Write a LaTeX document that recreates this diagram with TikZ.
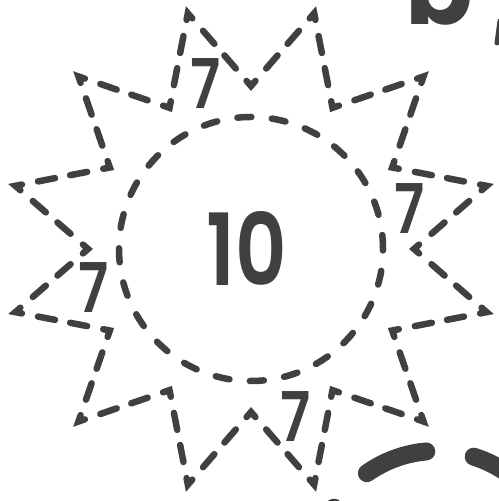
\documentclass[tikz,border=0pt]{standalone}
\usepackage{fontspec}
\setmainfont{Poppins}
\newfontfamily\numfont{Poppins SemiBold}
\usetikzlibrary{calc}
\definecolor{ink}{HTML}{404040}

\tikzset{
  ray line/.style={ink, line width=6.5bp, line cap=round},
  tip line/.style={ink, line width=6.5bp, line cap=round, line join=miter},
  ring line/.style={ink, line width=6.5bp, line cap=round, dash pattern=on 14bp off 20.5bp},
  fat line/.style={ink, line width=18bp, line cap=round, dash pattern=on 64bp off 48bp, dash phase=27bp},
  num label/.style={ink, inner sep=0pt, font=\numfont\fontsize{69}{69}\selectfont, xscale=0.8, transform shape}
}

\begin{document}
\begin{tikzpicture}[x=1bp,y=1bp]
  \useasboundingbox (0,0) rectangle (499,501);
  \coordinate (c) at (251,252);
  % valleys and tips of the sun
  \foreach \k in {0,...,11} {
    \coordinate (v\k) at ($(c)+(30*\k:163)$);
    \coordinate (t\k) at ($(c)+(30*\k+15:244)$);
  }
  \foreach \k in {0,...,11} {
    \pgfmathtruncatemacro\nx{mod(\k+1,12)}
    \pgfmathtruncatemacro\pv{mod(\k+11,12)}
    \foreach \a/\b in {v\k/t\k, t\k/v\nx} {
      \draw[ray line] ($(\a)!0.24!(\b)$) -- ($(\a)!0.42!(\b)$);
      \draw[ray line] ($(\a)!0.58!(\b)$) -- ($(\a)!0.76!(\b)$);
    }
    \draw[tip line] ($(t\k)!0.07!(v\k)$) -- (t\k) -- ($(t\k)!0.07!(v\nx)$);
    \draw[tip line] ($(v\k)!0.07!(t\pv)$) -- (v\k) -- ($(v\k)!0.07!(t\k)$);
  }
  % inner ring
  \draw[ring line] (c) circle[radius=132];
  \node[num label, font=\numfont\fontsize{100}{100}\selectfont] (ten) at (247,253) {10};
  \node[num label] (sevenA) at (206,417) {7};
  \node[num label] (sevenB) at (410,292) {7};
  \node[num label] (sevenC) at (94,213) {7};
  \node[num label] (sevenD) at (296,84) {7};
  % cut-off bits at the edges
  \node[ink, inner sep=0pt, anchor=base west, font=\bfseries\fontsize{100}{100}\selectfont] (word) at (405,476) {b};
  \draw[ink, line width=5bp, line cap=round] (500,480) -- (497,458);
  \coordinate (sc) at (437,-72);
  \draw[fat line] ($(sc)+(165:122)$) arc[start angle=165, end angle=0, radius=122];
\end{tikzpicture}
\end{document}
